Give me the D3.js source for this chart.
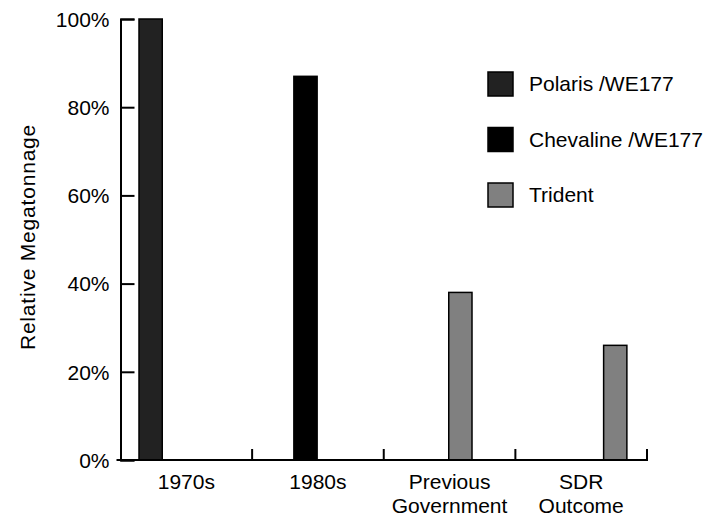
<!DOCTYPE html>
<html>
<head>
<meta charset="utf-8">
<script src="https://cdn.jsdelivr.net/npm/d3@7"></script>
<style>
  body { margin: 0; background: #fff; }
  text { font-family: "Liberation Sans", Arial, sans-serif; font-size: 21px; fill: #000; }
</style>
</head>
<body>
<svg id="main"></svg>
<script>
const width = 715;
const height = 518;

const categories = ['1970s', '1980s', 'Previous Government', 'SDR Outcome'];
const values = [100, 87, 38, 26];
const barSeries = ['Polaris /WE177', 'Chevaline /WE177', 'Trident', 'Trident'];

const seriesNames = ['Polaris /WE177', 'Chevaline /WE177', 'Trident'];
const seriesColors = ['#222222', '#000000', '#808080'];

const yTicks = [0, 20, 40, 60, 80, 100];

const svg = d3.select('#main')
  .attr('width', width)
  .attr('height', height);

const plot = { left: 120.5, right: 647, top: 19, bottom: 460 };

const x = d3.scaleBand().domain(categories).range([plot.left, plot.right]);
// each category has its own slot in the group, like the old 4-series chart
const slot = d3.scaleBand().domain(categories).range([18.5, 111.5]);
const y = d3.scaleLinear().domain([0, 100]).range([plot.bottom, plot.top]);
const color = d3.scaleOrdinal().domain(seriesNames).range(seriesColors);

// bars
svg.append('g').selectAll('rect')
  .data(categories)
  .join('rect')
  .attr('x', d => x(d) + slot(d))
  .attr('y', (d, i) => y(values[i]))
  .attr('width', slot.bandwidth())
  .attr('height', (d, i) => y(0) - y(values[i]))
  .attr('fill', (d, i) => color(barSeries[i]))
  .attr('stroke', '#000')
  .attr('stroke-width', 1.5);

// y axis, ticks pointing inward
const yAxis = svg.append('g')
  .attr('transform', `translate(${plot.left},0)`)
  .call(d3.axisLeft(y).tickValues(yTicks).tickSize(-14).tickPadding(11).tickFormat(d => d + '%'));
yAxis.select('.domain').attr('stroke', '#000').attr('stroke-width', 2);
yAxis.selectAll('.tick line').attr('stroke', '#000').attr('stroke-width', 2);
yAxis.selectAll('text').attr('font-size', 21).attr('dy', '0.35em');

// x axis: baseline, ticks between categories
const xAxis = svg.append('g');
xAxis.append('line')
  .attr('x1', plot.left - 4).attr('x2', plot.right + 1)
  .attr('y1', plot.bottom).attr('y2', plot.bottom)
  .attr('stroke', '#000').attr('stroke-width', 2);
xAxis.selectAll('.xtick')
  .data(categories)
  .join('line')
  .attr('class', 'xtick')
  .attr('x1', d => x(d) + x.bandwidth()).attr('x2', d => x(d) + x.bandwidth())
  .attr('y1', plot.bottom).attr('y2', plot.bottom - 11)
  .attr('stroke', '#000').attr('stroke-width', 2);

const xLabels = xAxis.selectAll('.xlabel')
  .data(categories)
  .join('text')
  .attr('class', 'xlabel')
  .attr('text-anchor', 'middle')
  .attr('y', 489);
xLabels.selectAll('tspan')
  .data(d => d.split(' ').map(w => ({ w, cx: x(d) + x.bandwidth() / 2 })))
  .join('tspan')
  .attr('x', d => d.cx)
  .attr('dy', (d, i) => i === 0 ? 0 : 24)
  .text(d => d.w);

// y label
svg.append('text')
  .attr('transform', 'translate(35,237) rotate(-90)')
  .attr('text-anchor', 'middle')
  .attr('letter-spacing', 0.8)
  .text('Relative Megatonnage');

// legend
const legend = svg.append('g').attr('transform', 'translate(488,72)');
const rows = legend.selectAll('g')
  .data(seriesNames)
  .join('g')
  .attr('transform', (d, i) => `translate(0,${i * 55.5})`);
rows.append('rect')
  .attr('width', 25).attr('height', 24)
  .attr('fill', d => color(d))
  .attr('stroke', '#000').attr('stroke-width', 1.5);
rows.append('text')
  .attr('x', 41).attr('y', 12).attr('dy', '0.35em')
  .text(d => d);
</script>
</body>
</html>
